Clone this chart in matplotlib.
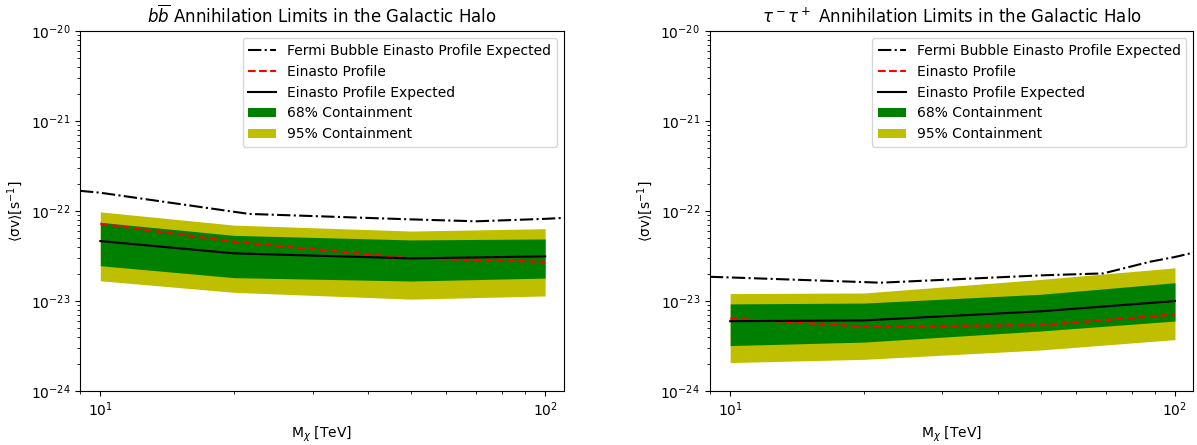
import numpy as np
import matplotlib
matplotlib.use("Agg")
import matplotlib.pyplot as plt

# Dark matter masses (TeV)
masses = [10, 20, 50, 100]

# b bbar channel
bb_obs = [7.25e-23, 4.56e-23, 2.98e-23, 2.73e-23]
bb_exp = [4.64e-23, 3.39e-23, 2.98e-23, 3.14e-23]
bb_68_lo = [2.47e-23, 1.82e-23, 1.67e-23, 1.80e-23]
bb_68_hi = [7.5e-23, 5.37e-23, 4.78e-23, 4.9e-23]
bb_95_lo = [1.68e-23, 1.25e-23, 1.05e-23, 1.14e-23]
bb_95_hi = [9.8e-23, 6.98e-23, 6.0e-23, 6.37e-23]
bb_fermi_m = [9, 10, 21.6, 49.5, 70, 100, 110]
bb_fermi = [1.68e-22, 1.6e-22, 9.3e-23, 8.1e-23, 7.7e-23, 8.2e-23, 8.4e-23]

# tau tau channel
tt_obs = [6.4e-24, 5.2e-24, 5.4e-24, 7.1e-24]
tt_exp = [5.97e-24, 6.1e-24, 7.7e-24, 1.0e-23]
tt_68_lo = [3.2e-24, 3.5e-24, 4.65e-24, 6.0e-24]
tt_68_hi = [9.3e-24, 9.5e-24, 1.19e-23, 1.6e-23]
tt_95_lo = [2.07e-24, 2.25e-24, 2.86e-24, 3.73e-24]
tt_95_hi = [1.21e-23, 1.23e-23, 1.74e-23, 2.34e-23]
tt_fermi_m = [9, 10, 21.8, 50, 69, 88, 100, 110]
tt_fermi = [1.86e-23, 1.83e-23, 1.6e-23, 1.93e-23, 2.03e-23, 2.74e-23, 3.09e-23, 3.45e-23]

fig = plt.figure(figsize=(11.97, 4.45), dpi=100)
ax1 = fig.add_axes([0.0668, 0.1213, 0.404, 0.8087])
ax2 = fig.add_axes([0.593, 0.1213, 0.404, 0.8087])

panels = [
    (ax1, r'$b\overline{b}$ Annihilation Limits in the Galactic Halo',
     bb_fermi_m, bb_fermi, bb_obs, bb_exp, bb_68_lo, bb_68_hi, bb_95_lo, bb_95_hi),
    (ax2, r'$\tau^-\tau^+$ Annihilation Limits in the Galactic Halo',
     tt_fermi_m, tt_fermi, tt_obs, tt_exp, tt_68_lo, tt_68_hi, tt_95_lo, tt_95_hi),
]

for ax, title, fm, fv, obs, exp, lo68, hi68, lo95, hi95 in panels:
    ax.fill_between(masses, lo95, hi95, color='y', linewidth=0, label='95% Containment')
    ax.fill_between(masses, lo68, hi68, color='g', linewidth=0, label='68% Containment')
    ax.plot(fm, fv, 'k-.', linewidth=1.5, label='Fermi Bubble Einasto Profile Expected')
    ax.plot(masses, obs, 'r--', linewidth=1.5, label='Einasto Profile')
    ax.plot(masses, exp, 'k-', linewidth=1.5, label='Einasto Profile Expected')
    ax.set_xscale('log')
    ax.set_yscale('log')
    ax.set_xlim(9, 110)
    ax.set_ylim(1e-24, 1e-20)
    ax.set_title(title, fontsize=12)
    ax.set_xlabel(r'M$_\chi$ [TeV]')
    ax.set_ylabel(r'$\langle\mathrm{\sigma v}\rangle[\mathrm{s}^{-1}]$')
    handles, labels = ax.get_legend_handles_labels()
    order = [2, 3, 4, 1, 0]
    ax.legend([handles[i] for i in order], [labels[i] for i in order], loc='upper right')

fig.savefig('out.png', dpi=100)
